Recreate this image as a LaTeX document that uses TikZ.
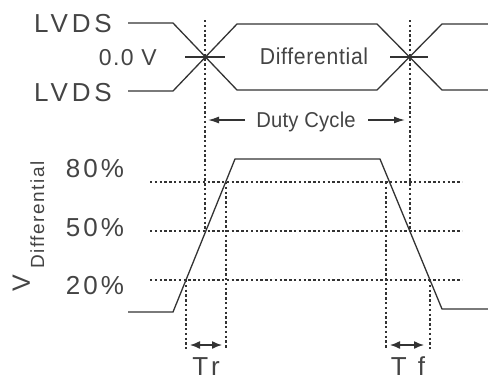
\documentclass[tikz,border=0pt]{standalone}
\usepackage{fontspec}
\setmainfont{Liberation Sans}
\newfontfamily\fwide[LetterSpace=15]{Liberation Sans}
\newfontfamily\fpct[LetterSpace=12]{Liberation Sans}
\newfontfamily\fzero[LetterSpace=6]{Liberation Sans}
\newfontfamily\fdiff[LetterSpace=3,FakeStretch=0.92]{Liberation Sans}
\newfontfamily\fduty[LetterSpace=1,FakeStretch=0.94]{Liberation Sans}
\newfontfamily\fsub[LetterSpace=8]{Liberation Sans}
\usetikzlibrary{arrows.meta}
\definecolor{ink}{HTML}{333333}
\definecolor{txt}{HTML}{444444}
\begin{document}
\begin{tikzpicture}[x=1pt,y=-1pt,
  sig/.style={draw=ink,line width=1.3pt,line join=miter},
  guide/.style={draw=ink,line width=1.2pt,dash pattern=on 2.4pt off 2.4pt},
  tick/.style={draw=ink,line width=1.2pt},
  dim/.style={draw=ink,line width=1.4pt,-{Latex[length=11pt,width=7pt]}},
  dimboth/.style={draw=ink,line width=1.4pt,{Latex[length=10pt,width=8pt]}-{Latex[length=10pt,width=8pt]}},
  txtnode/.style={text=txt,inner sep=0pt},
  lbl/.style={txtnode,font=\fwide\fontsize{26}{30}\selectfont},
  pct/.style={txtnode,font=\fpct\fontsize{26}{30}\selectfont}]
\useasboundingbox (0,0) rectangle (488,376);
\fill[white] (0,0) rectangle (488,376);

% ---- labels ----
\node[lbl,anchor=base east] (lvdsA) at (112,32) {LVDS};
\node[lbl,anchor=base east] (lvdsB) at (112,101) {LVDS};
\node[txtnode,font=\fzero\fontsize{23}{27}\selectfont,anchor=base east] (zero) at (157,65) {0.0 V};
\node[txtnode,font=\fdiff\fontsize{23}{27}\selectfont,anchor=base] (diff) at (314,64) {Differential};
\node[txtnode,font=\fduty\fontsize{21.5}{25}\selectfont,anchor=base] (duty) at (306,127) {Duty Cycle};
\node[pct,anchor=base] (p80) at (95,177) {80\%};
\node[pct,anchor=base] (p50) at (95,236) {50\%};
\node[pct,anchor=base] (p20) at (95,294) {20\%};
\node[txtnode,font=\fontsize{25}{28}\selectfont,anchor=base west,rotate=90] (vlab) at (30,292) {V};
\node[txtnode,font=\fsub\fontsize{19}{22}\selectfont,anchor=base west,rotate=90] (vsub) at (44,269) {Differential};
\node[lbl,anchor=base,font=\fwide\fontsize{26}{30}\selectfont] (tr) at (206,375) {Tr};
\node[lbl,anchor=base,font=\fwide\fontsize{26}{30}\selectfont] (tf) at (408,375) {T f};

% ---- LVDS pair ----
\coordinate (a0) at (128,23); \coordinate (a1) at (173,23);
\coordinate (a2) at (237,90); \coordinate (a3) at (377,90);
\coordinate (a4) at (442,24); \coordinate (a5) at (488,24);
\coordinate (b0) at (128,91); \coordinate (b1) at (173,91);
\coordinate (b2) at (237,24); \coordinate (b3) at (377,24);
\coordinate (b4) at (442,90); \coordinate (b5) at (488,90);
\draw[sig] (a0) -- (a1) -- (a2) -- (a3) -- (a4) -- (a5);
\draw[sig] (b0) -- (b1) -- (b2) -- (b3) -- (b4) -- (b5);
\coordinate (xl) at (205,57); \coordinate (xr) at (410,57);
\draw[tick] ([xshift=-20pt]xl) -- ([xshift=20pt]xl);
\draw[tick] ([xshift=-20pt]xr) -- ([xshift=18pt]xr);

% ---- vertical guides from crossings ----
\coordinate (gl0) at (205,20); \coordinate (gl1) at (205,231);
\coordinate (gr0) at (410,20); \coordinate (gr1) at (410,231);
\draw[guide] (gl0) -- (gl1);
\draw[guide] (gr0) -- (gr1);

% ---- duty cycle arrows ----
\coordinate (dl) at (245,120); \coordinate (dlt) at (208,120);
\coordinate (dr) at (368,120); \coordinate (drt) at (405,120);
\draw[dim] (dl) -- (dlt);
\draw[dim] (dr) -- (drt);

% ---- level guides ----
\foreach \yy/\nm in {182/h80,231/h50,280/h20}{
  \coordinate (\nm s) at (150,\yy); \coordinate (\nm e) at (462,\yy);
  \draw[guide] (\nm s) -- (\nm e);
}

% ---- differential waveform ----
\coordinate (w0) at (128,312); \coordinate (w1) at (173,312);
\coordinate (w2) at (235,159); \coordinate (w3) at (380,159);
\coordinate (w4) at (442,309); \coordinate (w5) at (488,309);
\draw[sig] (w0) -- (w1) -- (w2) -- (w3) -- (w4) -- (w5);

% ---- rise / fall guides ----
\coordinate (r1t) at (186,280); \coordinate (r1b) at (186,349);
\coordinate (r2t) at (226,182); \coordinate (r2b) at (226,349);
\coordinate (f1t) at (386,182); \coordinate (f1b) at (386,349);
\coordinate (f2t) at (430,280); \coordinate (f2b) at (430,349);
\draw[guide] (r1t) -- (r1b);
\draw[guide] (r2t) -- (r2b);
\draw[guide] (f1t) -- (f1b);
\draw[guide] (f2t) -- (f2b);
\coordinate (tra) at (190,345); \coordinate (trb) at (222,345);
\coordinate (tfa) at (390,345); \coordinate (tfb) at (424,345);
\draw[dimboth] (tra) -- (trb);
\draw[dimboth] (tfa) -- (tfb);
\end{tikzpicture}
\end{document}
